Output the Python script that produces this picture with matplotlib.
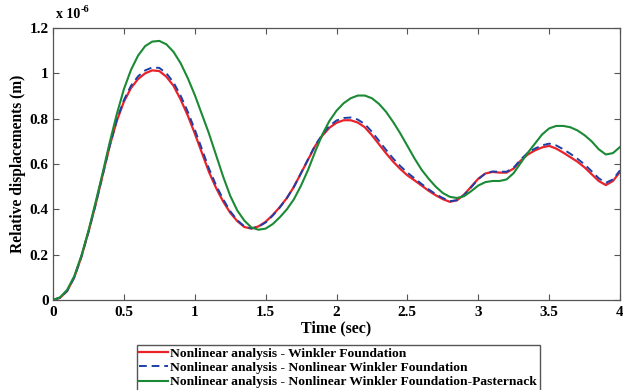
import numpy as np
import matplotlib.pyplot as plt

# time (sec)
t = np.arange(0, 4.0001, 0.05)

# relative displacements, x 1e-6 m
winkler = [0.000, 0.010, 0.040, 0.100, 0.190, 0.300, 0.420, 0.550, 0.680, 0.790,
           0.875, 0.935, 0.975, 1.000, 1.013, 1.010, 0.985, 0.945, 0.885, 0.815,
           0.735, 0.650, 0.565, 0.495, 0.435, 0.385, 0.348, 0.322, 0.315, 0.325,
           0.345, 0.375, 0.410, 0.450, 0.500, 0.560, 0.620, 0.680, 0.725, 0.760,
           0.782, 0.793, 0.793, 0.783, 0.762, 0.727, 0.687, 0.647, 0.610, 0.578,
           0.550, 0.528, 0.505, 0.482, 0.462, 0.445, 0.433, 0.440, 0.465, 0.500,
           0.535, 0.558, 0.565, 0.562, 0.562, 0.580, 0.615, 0.642, 0.660, 0.673,
           0.680, 0.668, 0.650, 0.630, 0.610, 0.585, 0.555, 0.525, 0.507, 0.525,
           0.565]

nl_winkler = [0.000, 0.010, 0.040, 0.100, 0.190, 0.300, 0.420, 0.550, 0.680, 0.795,
              0.882, 0.945, 0.987, 1.013, 1.026, 1.024, 1.000, 0.960, 0.902, 0.832,
              0.752, 0.667, 0.580, 0.507, 0.445, 0.392, 0.352, 0.325, 0.316, 0.323,
              0.342, 0.372, 0.408, 0.450, 0.500, 0.560, 0.622, 0.683, 0.730, 0.768,
              0.792, 0.803, 0.805, 0.796, 0.776, 0.742, 0.702, 0.662, 0.624, 0.591,
              0.562, 0.537, 0.512, 0.488, 0.467, 0.450, 0.436, 0.440, 0.463, 0.497,
              0.533, 0.558, 0.567, 0.566, 0.566, 0.584, 0.620, 0.650, 0.668, 0.682,
              0.690, 0.682, 0.665, 0.645, 0.623, 0.598, 0.568, 0.537, 0.517, 0.532,
              0.572]

nl_pasternak = [0.000, 0.012, 0.045, 0.105, 0.195, 0.305, 0.430, 0.560, 0.695, 0.820,
                0.930, 1.015, 1.078, 1.120, 1.140, 1.143, 1.128, 1.095, 1.045, 0.980,
                0.905, 0.820, 0.735, 0.640, 0.545, 0.460, 0.395, 0.350, 0.320, 0.310,
                0.315, 0.335, 0.365, 0.400, 0.445, 0.505, 0.575, 0.655, 0.730, 0.790,
                0.835, 0.868, 0.890, 0.902, 0.902, 0.890, 0.865, 0.830, 0.785, 0.735,
                0.680, 0.625, 0.575, 0.535, 0.500, 0.472, 0.455, 0.450, 0.458, 0.480,
                0.505, 0.520, 0.525, 0.525, 0.532, 0.560, 0.605, 0.650, 0.690, 0.730,
                0.757, 0.768, 0.768, 0.762, 0.748, 0.727, 0.700, 0.665, 0.642, 0.648,
                0.675]

labels = ["Nonlinear analysis - Winkler Foundation",
          "Nonlinear analysis - Nonlinear Winkler Foundation",
          "Nonlinear analysis - Nonlinear Winkler Foundation-Pasternack"]

plt.rcParams['font.family'] = 'Liberation Serif'
plt.rcParams['font.weight'] = 'bold'

fig = plt.figure(figsize=(6.23, 3.9), dpi=100)
ax = fig.add_axes([53 / 623, 1 - 300 / 390, 567 / 623, 272 / 390])

ax.plot(t, winkler, color='#e8232a', lw=1.6, label=labels[0])
ax.plot(t, nl_winkler, color='#1f3fa8', lw=1.4, ls=(0, (4, 2.5)), label=labels[1])
ax.plot(t, nl_pasternak, color='#1a8a35', lw=1.5, label=labels[2])

ax.set_xlim(0, 4)
ax.set_ylim(0, 1.2)
ax.set_xticks([0, 0.5, 1, 1.5, 2, 2.5, 3, 3.5, 4])
ax.set_xticklabels(['0', '0.5', '1', '1.5', '2', '2.5', '3', '3.5', '4'])
ax.set_yticks([0, 0.2, 0.4, 0.6, 0.8, 1, 1.2])
ax.set_yticklabels(['0', '0.2', '0.4', '0.6', '0.8', '1', '1.2'])
ax.tick_params(direction='in', top=True, right=True, length=4, width=0.8,
               color='#555555', labelsize=11)
ax.tick_params(axis='x', pad=4)
ax.tick_params(axis='y', pad=3)
for s in ax.spines.values():
    s.set_color('#555555')
    s.set_linewidth(0.9)

ax.set_xlabel('Time (sec)', fontsize=11.5, fontweight='bold', labelpad=1)
ax.set_ylabel('Relative displacements (m)', fontsize=11.2, fontweight='bold', labelpad=3)

# exponent label like the matlab axis multiplier
ax.annotate('x 10', xy=(0, 1), xycoords='axes fraction', xytext=(2, 5),
            textcoords='offset points', fontsize=10, fontweight='bold',
            ha='left', va='bottom')
ax.annotate('-6', xy=(0, 1), xycoords='axes fraction', xytext=(20, 10),
            textcoords='offset points', fontsize=7.5, fontweight='bold',
            ha='left', va='bottom')

fig.legend(loc='upper left', bbox_to_anchor=(130 / 623, 1 - 338 / 390),
           fontsize=9.7, handlelength=2.1, handletextpad=0.2, borderpad=0.2,
           labelspacing=0.14, frameon=True, fancybox=False, edgecolor='#555555',
           framealpha=1)

fig.savefig('out.png', dpi=100)
